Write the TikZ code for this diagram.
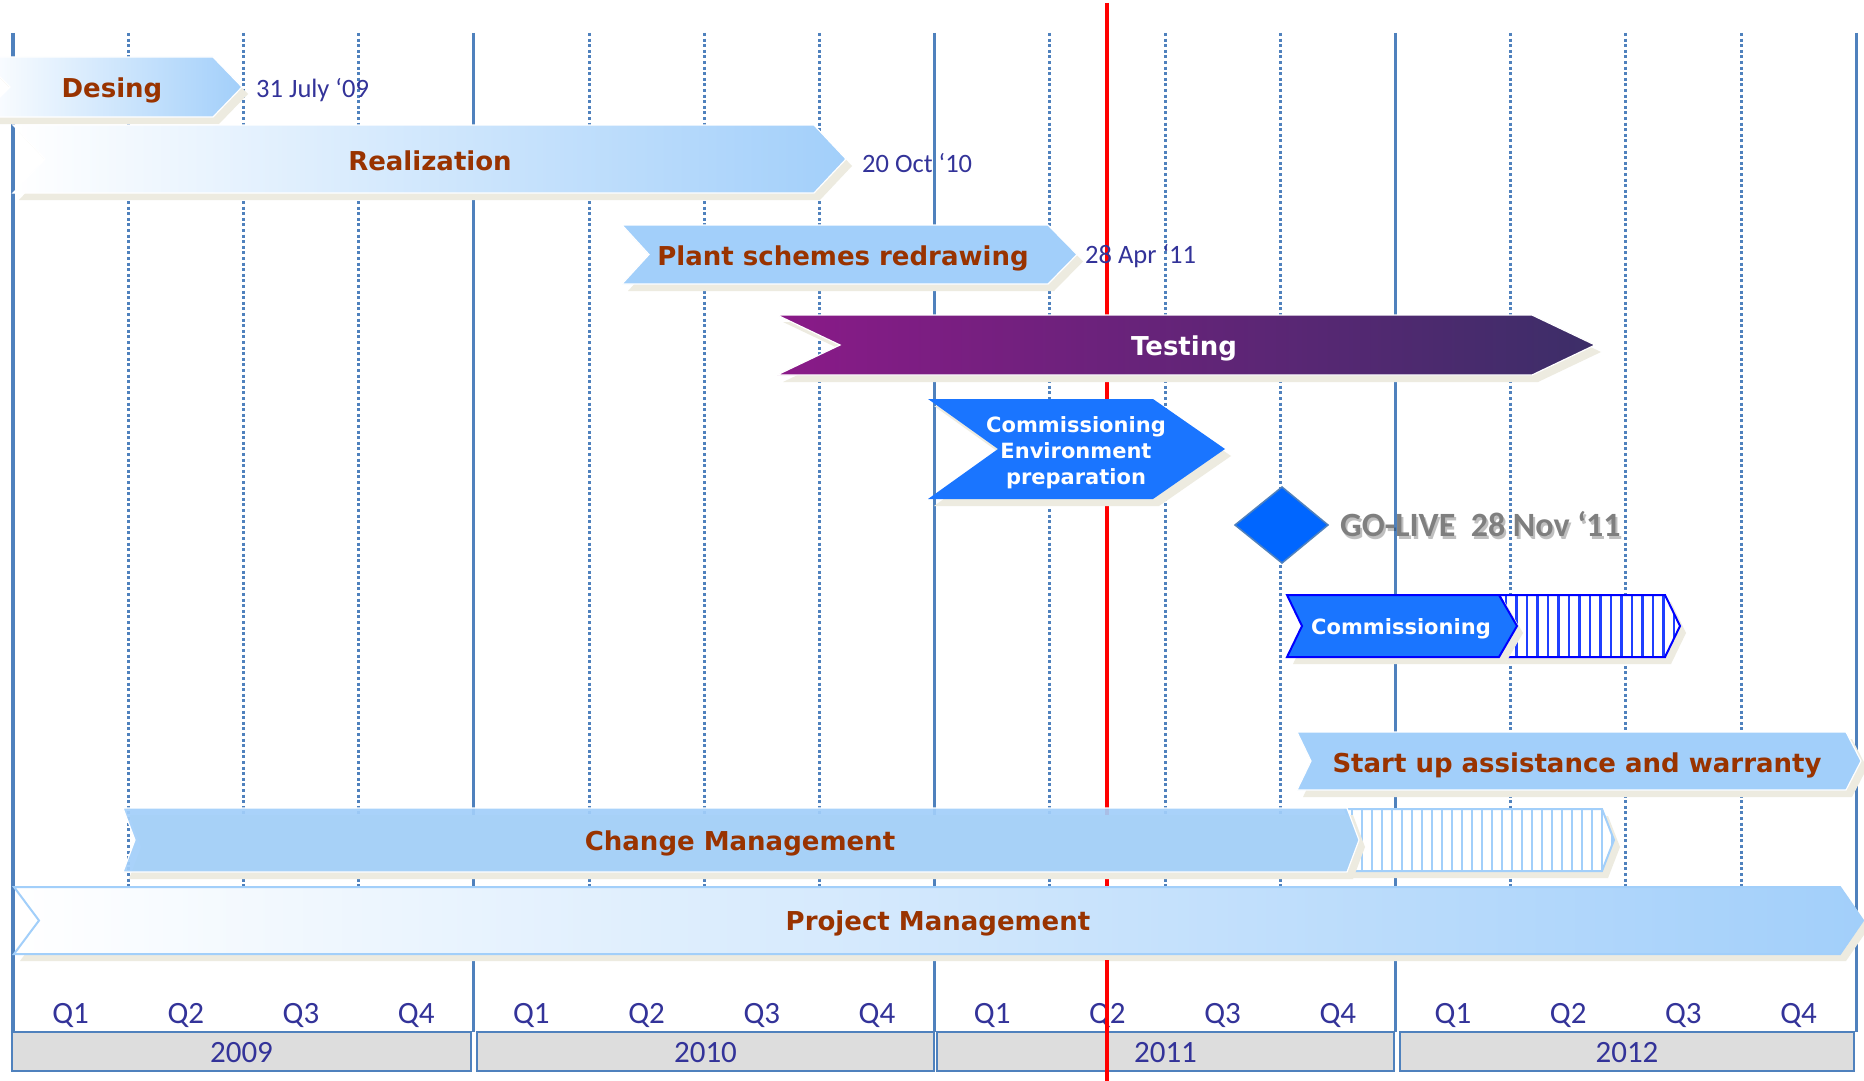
\documentclass[tikz,border=0pt]{standalone}
\usepackage{fontspec}
\setmainfont{DejaVu Sans}
\newfontfamily\barfont{DejaVu Sans}
\newfontfamily\calfont{Carlito}

\definecolor{lblue}{HTML}{A2CFFA}
\definecolor{brn}{HTML}{993300}
\definecolor{navy}{HTML}{333399}
\definecolor{gridblue}{HTML}{4F81BD}
\definecolor{vivid}{HTML}{1A75FF}
\definecolor{milestone}{HTML}{0066FF}
\definecolor{shad}{HTML}{EDEBE0}
\definecolor{purpL}{HTML}{8A1A88}
\definecolor{purpR}{HTML}{3C2E68}
\definecolor{yearfill}{HTML}{DDDDDD}
\definecolor{golive}{HTML}{7F7F7F}
\definecolor{stripeblue}{HTML}{1F3FFF}

% chevron: left, body right, top, bottom, notch depth, tip depth
\newcommand\chevshape[6]{(#1,#3) -- (#2,#3) -- ({#2+#6},{(#3+#4)/2}) -- (#2,#4) -- (#1,#4) -- ({#1+#5},{(#3+#4)/2}) -- cycle}
% bar with its drop shadow
\newcommand\ganttbar[7]{%
  \fill[barshadow] \chevshape{#2}{#3}{#4}{#5}{#6}{#7};
  \path[#1] \chevshape{#2}{#3}{#4}{#5}{#6}{#7};}

\begin{document}
\begin{tikzpicture}[x=1pt,y=-1pt,
  barshadow/.style={fill=shad, shift={(6,7)}},
  fadebar/.style={left color=white, right color=lblue, draw=white, line width=1.2pt},
  lightbar/.style={fill=lblue, draw=white, line width=1.2pt},
  barlabel/.style={font=\barfont\bfseries\fontsize{26}{31}\selectfont, text=brn, inner sep=0pt},
  whitelabel/.style={font=\barfont\bfseries\fontsize{21}{26}\selectfont, text=white, inner sep=0pt, align=center},
  datelabel/.style={font=\calfont\fontsize{26.5}{32}\selectfont, text=navy, anchor=west, inner sep=0pt},
  axislabel/.style={font=\calfont\fontsize{31}{36}\selectfont, text=navy, inner sep=0pt},
  yearbox/.style={draw=gridblue, line width=2.5pt, fill=yearfill},
  yearline/.style={gridblue, line width=3.2pt},
  qline/.style={gridblue, line width=3pt, dash pattern=on 3pt off 2.6pt},
  todayline/.style={red, line width=3.5pt},
  stripe/.style={line width=2.6pt}
]
\useasboundingbox[fill=white] (0,0) rectangle (1864,1081);

% quarter and year grid
\foreach \i in {1,2,3,5,6,7,9,10,11,13,14,15}
  \draw[qline] ({13+115.2*\i},33) -- ({13+115.2*\i},886);
\foreach \i in {0,4,8,12,16}
  \draw[yearline] ({13+115.2*\i},33) -- ({13+115.2*\i},1032);

% today marker
\coordinate (todaytop) at (1107,3);
\coordinate (todaybot) at (1107,1081);
\coordinate (todaymid) at (1107,960);
\draw[todayline] (todaytop) -- (todaybot);

% Desing
\ganttbar{fadebar}{-20}{213}{57}{117}{30}{29}
\node[barlabel] (desing) at (112,90) {Desing};
\node[datelabel] (d1) at (256,90) {31 July ‘09};

% Realization
\ganttbar{fadebar}{13}{814}{125}{193}{32}{32}
\node[barlabel] (real) at (430,161) {Realization};
\node[datelabel] (d2) at (862,163) {20 Oct ‘10};

% Plant schemes redrawing
\ganttbar{lightbar}{622}{1048}{225}{284}{27}{29}
\node[barlabel] (plant) at (843,258) {Plant schemes redrawing};
\node[datelabel] (d3) at (1085,256) {28 Apr ‘11};

% Testing
\ganttbar{left color=purpL, right color=purpR, draw=white, line width=1.2pt}{777}{1532}{315}{375}{63}{63}
\node[barlabel, text=white] (testing) at (1184,348) {Testing};

% Commissioning environment preparation
\ganttbar{fill=vivid}{928}{1153}{399}{499}{70}{72}
\node[whitelabel] (commenv) at (1076,453) {Commissioning\\Environment\\preparation};

% GO-LIVE milestone
\fill[milestone, draw=gridblue, line width=1.5pt] (1235,525) -- (1282,487) -- (1328,525) -- (1282,563) -- cycle;
\node[font=\calfont\bfseries\fontsize{34}{40}\selectfont, text=black, opacity=0.25, anchor=west, inner sep=0pt] (goliveshadow) at (1342,527) {GO-LIVE\ \ 28 Nov ‘11};
\node[font=\calfont\bfseries\fontsize{34}{40}\selectfont, text=golive, anchor=west, inner sep=0pt] (golive) at (1340,524) {GO-LIVE\ \ 28 Nov ‘11};

% Commissioning (done part and remaining striped part)
\fill[barshadow] \chevshape{1499}{1665}{595}{657}{18}{15};
\begin{scope}
  \clip \chevshape{1499}{1665}{595}{657}{18}{15};
  \fill[white] (1490,590) rectangle (1690,662);
  \foreach \x in {1506,1516.5,...,1690}
    \draw[stripe, stripeblue] (\x,590) -- (\x,662);
\end{scope}
\draw[blue, line width=2pt] \chevshape{1499}{1665}{595}{657}{18}{15};
\ganttbar{fill=vivid, draw=blue, line width=2pt}{1287}{1499}{595}{657}{15}{18}
\node[whitelabel] (comm) at (1401,629) {Commissioning};

% Start up assistance and warranty
\ganttbar{lightbar}{1297}{1846}{732}{790}{14}{15}
\node[barlabel] (startup) at (1577,765) {Start up assistance and warranty};

% Change Management (done part and remaining striped part)
\fill[barshadow] \chevshape{1345}{1602}{809}{871}{13}{12};
\begin{scope}
  \clip \chevshape{1345}{1602}{809}{871}{13}{12};
  \fill[white] (1340,805) rectangle (1620,875);
  \foreach \x in {1352,1362,...,1620}
    \draw[stripe, lblue] (\x,805) -- (\x,875);
\end{scope}
\draw[lblue, line width=2pt] \chevshape{1345}{1602}{809}{871}{13}{12};
\ganttbar{fill=lblue, fill opacity=0.92, draw=white, line width=1.2pt}{123}{1347}{808}{872}{12}{12}
\node[barlabel] (change) at (740,843) {Change Management};

% Project Management
\ganttbar{left color=white, right color=lblue, draw=lblue, line width=2pt}{14}{1840}{887}{954}{25}{23}
\node[barlabel] (pm) at (938,923) {Project Management};

% time axis
\foreach \i in {0,...,15} {
  \pgfmathtruncatemacro\q{mod(\i,4)+1}
  \node[axislabel] (q\i) at ({13+115.2*(\i+0.5)},1015) {Q\q};
}
\draw[yearbox] (12,1032) rectangle (471,1071);
\draw[yearbox] (477,1032) rectangle (934,1071);
\draw[yearbox] (937,1032) rectangle (1394,1071);
\draw[yearbox] (1400,1032) rectangle (1854,1071);
\node[axislabel] (y2009) at (241.5,1053) {2009};
\node[axislabel] (y2010) at (705.5,1053) {2010};
\node[axislabel] (y2011) at (1165.5,1053) {2011};
\node[axislabel] (y2012) at (1627,1053) {2012};

% today marker over the axis
\draw[todayline] (todaymid) -- (todaybot);
\end{tikzpicture}
\end{document}
